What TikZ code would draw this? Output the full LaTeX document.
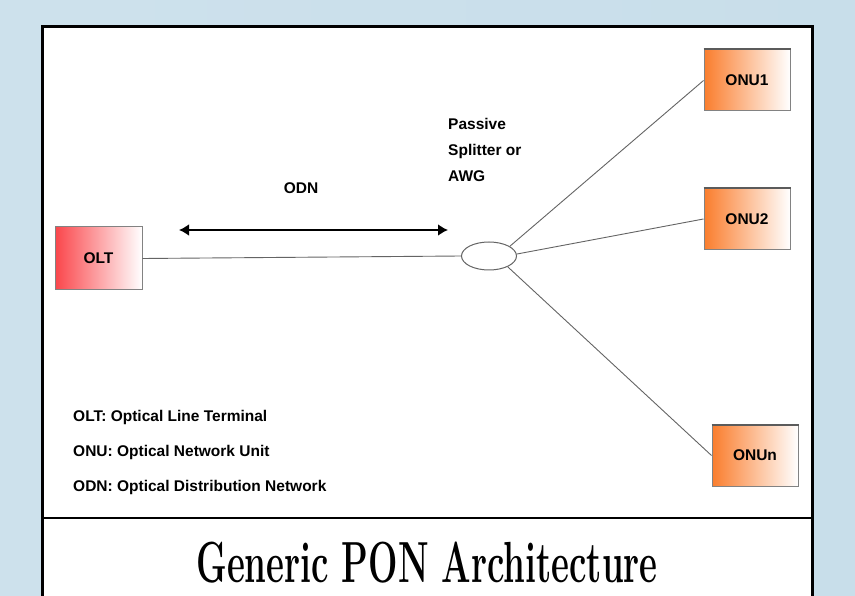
\documentclass[tikz,border=0pt]{standalone}
\usepackage{fontspec}
\setsansfont{Liberation Sans}
\usepackage{tikz}
\usetikzlibrary{shapes.geometric,arrows.meta}

\definecolor{bgblue}{RGB}{200,222,234}
\definecolor{oltred}{RGB}{250,70,75}
\definecolor{onuorange}{RGB}{250,125,45}
\definecolor{boxgray}{RGB}{130,130,130}
\definecolor{fibregray}{RGB}{100,100,100}

\tikzset{
  lbl/.style={font=\sffamily\bfseries\fontsize{15.5}{18}\selectfont, inner sep=0pt},
  oltbox/.style={draw=boxgray, line width=1pt, left color=oltred, right color=white,
    minimum width=87pt, minimum height=63pt, inner sep=0pt},
  onubox/.style={draw=boxgray, line width=1pt, left color=onuorange, right color=white,
    minimum width=86pt, minimum height=61pt, inner sep=0pt},
  fibre/.style={draw=fibregray, line width=0.9pt},
}

\begin{document}
\begin{tikzpicture}[x=1pt,y=-1pt]
\useasboundingbox (0,0) rectangle (855,596);
% background and frame
\shade[left color=bgblue!90!white, right color=bgblue] (0,0) rectangle (855,596);
\fill[white] (42,27) rectangle (812,596);
\draw[line width=3pt] (42,600) -- (42,27) -- (812,27) -- (812,600);
\draw[line width=2.5pt] (42,518) -- (812,518);
%
\node[oltbox] (olt) at (98.5,258.5) {};
\node[lbl] at (olt.center) {OLT};
\node[onubox] (onu1) at (747,80.5) {};
\node[lbl] at (onu1.center) {ONU1};
\node[onubox] (onu2) at (747,219) {};
\node[lbl] at (onu2.center) {ONU2};
\node[onubox] (onun) at (755,455.5) {};
\node[lbl] at (onun.center) {ONUn};
\foreach \n in {onu1,onu2,onun}
  \draw[boxgray!70!black, line width=2pt] (\n.north west) -- (\n.north east);
%
\node[draw=fibregray, line width=1pt, ellipse, minimum width=55pt, minimum height=28pt,
  inner sep=0pt] (split) at (489,256) {};
\draw[fibre] (olt.east) -- (split.west);
\draw[fibre] (split.25) -- (onu1.west);
\draw[fibre] (split.4) -- (onu2.west);
\draw[fibre] (split.-30) -- (onun.west);
%
\coordinate (odnL) at (179,230);
\coordinate (odnR) at (448,230);
\draw[line width=2.6pt, {Latex[length=10pt,width=12pt]}-{Latex[length=10pt,width=12pt]}] (odnL) -- (odnR);
\node[lbl] (odn) at (301,188) {ODN};
\node[lbl, anchor=base west, align=left,
  font=\sffamily\bfseries\fontsize{15.5}{26}\selectfont] (pas) at (448,182)
  {Passive\\Splitter or\\AWG};
%
\node[lbl, anchor=west] (leg1) at (73,417) {OLT: Optical Line Terminal};
\node[lbl, anchor=west] (leg2) at (73,452) {ONU: Optical Network Unit};
\node[lbl, anchor=west] (leg3) at (73,487) {ODN: Optical Distribution Network};
%
\node[inner sep=0pt, anchor=base] (title) at (427,582)
  {\scalebox{0.6}[1]{\fontsize{58}{60}\selectfont\bfseries Generic PON Architecture}};
\end{tikzpicture}
\end{document}
